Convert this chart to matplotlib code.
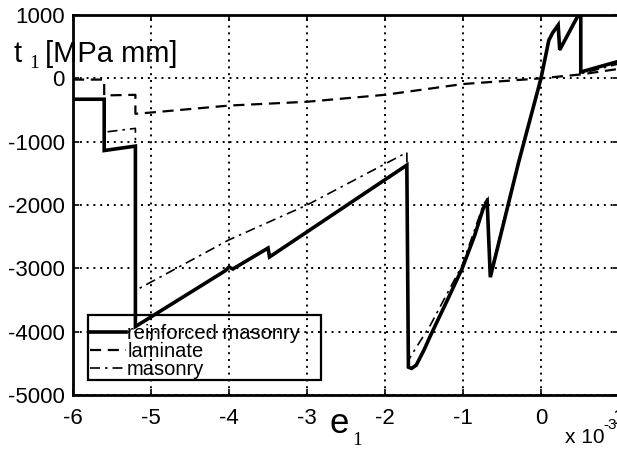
import matplotlib
matplotlib.use("Agg")
import matplotlib.pyplot as plt
from matplotlib.patches import Rectangle

plt.rcParams['font.family'] = ['Liberation Sans', 'DejaVu Sans']

# strain e1 (x 10^-3) and stress resultant t1 [MPa mm]
e_rm = [-6.0, -5.6, -5.6, -5.2, -5.2, -4.05, -4.0, -3.95, -3.5, -3.48, -1.72,
        -1.70, -1.66, -1.6, -1.5, -1.42, -1.2, -1.01, -0.85, -0.74, -0.69, -0.65,
        -0.29, 0.0, 0.1, 0.15, 0.22, 0.24, 0.47, 0.51, 0.51, 1.0]
t_rm = [-330, -330, -1140, -1070, -3920, -3040, -2980, -3010, -2680, -2820, -1370,
        -4560, -4580, -4530, -4290, -4070, -3500, -3000, -2480, -2050, -1950, -3140,
        -1340, 0, 600, 720, 840, 450, 980, 990, 100, 270]

e_lam = [-6.0, -5.6, -5.6, -5.2, -5.2, -5.0, -4.0, -3.0, -2.0, -1.0, 0.0, 0.5, 1.0]
t_lam = [-20, -20, -270, -260, -560, -540, -430, -370, -260, -90, 0, 60, 150]

e_mas = [-6.0, -5.6, -5.6, -5.2, -5.2, -4.0, -3.0, -1.72, -1.70, -1.6, -1.42,
         -1.01, -0.74, -0.69, -0.65, -0.29, 0.0, 0.1, 0.15, 0.22, 0.24, 0.47,
         0.5, 0.5, 1.0]
t_mas = [-330, -330, -850, -790, -3350, -2550, -2000, -1170, -4450, -4250, -3900,
         -2950, -2000, -1900, -3100, -1320, 0, 600, 720, 840, 450, 980,
         960, 70, 230]

xticks = [-6, -5, -4, -3, -2, -1, 0, 1]
yticks = [-5000, -4000, -3000, -2000, -1000, 0, 1000]

W, H = 617, 461
fig = plt.figure(figsize=(W / 100, H / 100), dpi=100)
ax = fig.add_axes([73 / W, 66 / H, 546 / W, 380 / H])

l1, = ax.plot(e_rm, t_rm, color='k', lw=2.6, solid_joinstyle='miter')
l2, = ax.plot(e_lam, t_lam, color='k', lw=1.6, linestyle=(0, (5, 3)))
l3, = ax.plot(e_mas, t_mas, color='k', lw=1.2, linestyle=(0, (6, 3, 1.5, 3)))

ax.set_xlim(-6, 1)
ax.set_ylim(-5000, 1000)
ax.set_xticks(xticks)
ax.set_yticks(yticks)
ax.set_xticklabels([str(v) for v in xticks])
ax.set_yticklabels([str(v) for v in yticks])
ax.tick_params(direction='in', length=4, width=1.2, labelsize=16,
               top=True, right=True)
ax.tick_params(axis='x', pad=9)
ax.tick_params(axis='y', pad=6)
ax.grid(True, color='k', linestyle=(0, (1, 2.5)), linewidth=1.4)
for s in ax.spines.values():
    s.set_linewidth(2.0)

# legend box drawn separately, MATLAB style
ax.add_patch(Rectangle((0.0275, 0.0395), 0.4267, 0.171, transform=ax.transAxes,
                       fill=False, edgecolor='k', lw=1.6, zorder=5))
ax.legend([l1, l2, l3], ['reinforced masonry', 'laminate', 'masonry'],
          loc='upper left', bbox_to_anchor=(0.031, 0.187), frameon=False,
          borderpad=0, borderaxespad=0, fontsize=14.5, handlelength=1.8,
          handletextpad=0.05, labelspacing=-0.05)

def px(x, y):
    return x / W, 1 - y / H

# axis labels
fig.text(*px(14, 62), 't', fontsize=21, va='baseline')
fig.text(*px(29, 68), '1', fontsize=14, family='Liberation Serif', va='baseline')
fig.text(*px(45, 62), '[MPa mm]', fontsize=21, va='baseline')

fig.text(*px(330, 433), 'e', fontsize=25, va='baseline')
fig.text(*px(352, 445), '1', fontsize=14, family='Liberation Serif', va='baseline')

fig.text(*px(565, 443), 'x 10', fontsize=15, va='baseline')
fig.text(*px(603, 429), '-3', fontsize=11, va='baseline')

fig.savefig('out.png', dpi=100)
